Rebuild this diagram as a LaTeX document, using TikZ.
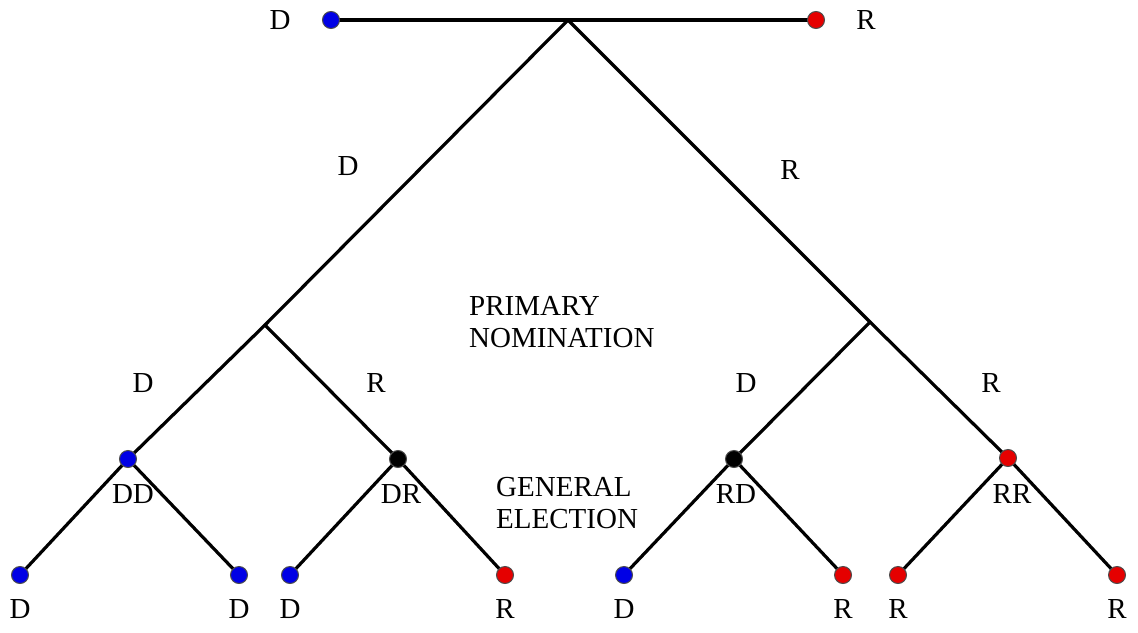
\documentclass[tikz,border=0pt]{standalone}
\usepackage{fontspec}
\setmainfont{Liberation Serif}
\begin{document}
\begin{tikzpicture}[x=1pt,y=-1pt,
  edge/.style={line width=3.2pt, line cap=round},
  dot/.style={circle, draw=black!70, line width=1pt, minimum size=17pt, inner sep=0pt},
  bdot/.style={dot, fill=blue!90!black},
  rdot/.style={dot, fill=red!90!black},
  kdot/.style={dot, fill=black},
  lab/.style={font=\fontsize{29}{32}\selectfont, inner sep=0pt},
  blk/.style={font=\fontsize{29}{32}\selectfont, inner sep=0pt, align=left, anchor=west}]
\useasboundingbox (0,0) rectangle (1138,632);
% coordinates
\coordinate (apex) at (568,20);
\coordinate (ls) at (265,325);
\coordinate (rs) at (870,322);
% edges
\draw[edge] (331,20) coordinate (pD) -- (816,20) coordinate (pR);
\draw[edge] (apex) -- (ls) -- (128,459) coordinate (cDD);
\draw[edge] (apex) -- (rs) -- (1008,458) coordinate (cRR);
\draw[edge] (ls) -- (398,459) coordinate (cDR);
\draw[edge] (rs) -- (734,459) coordinate (cRD);
\draw[edge] (cDD) -- (20,575) coordinate (c1);
\draw[edge] (cDD) -- (239,575) coordinate (c2);
\draw[edge] (cDR) -- (290,575) coordinate (c3);
\draw[edge] (cDR) -- (505,575) coordinate (c4);
\draw[edge] (cRD) -- (624,575) coordinate (c5);
\draw[edge] (cRD) -- (843,575) coordinate (c6);
\draw[edge] (cRR) -- (898,575) coordinate (c7);
\draw[edge] (cRR) -- (1117,575) coordinate (c8);
% dots
\node[bdot] (topD) at (pD) {};
\node[rdot] (topR) at (pR) {};
\node[bdot] (DD) at (cDD) {};
\node[kdot] (DR) at (cDR) {};
\node[kdot] (RD) at (cRD) {};
\node[rdot] (RR) at (cRR) {};
\node[bdot] (l1) at (c1) {};
\node[bdot] (l2) at (c2) {};
\node[bdot] (l3) at (c3) {};
\node[rdot] (l4) at (c4) {};
\node[bdot] (l5) at (c5) {};
\node[rdot] (l6) at (c6) {};
\node[rdot] (l7) at (c7) {};
\node[rdot] (l8) at (c8) {};
% labels
\node[lab] (tD) at (280,20) {D};
\node[lab] (tR) at (866,20) {R};
\node[lab] (bD) at (348,166) {D};
\node[lab] (bR) at (790,170) {R};
\node[lab] (mD1) at (143,383) {D};
\node[lab] (mR1) at (376,383) {R};
\node[lab] (mD2) at (746,383) {D};
\node[lab] (mR2) at (991,383) {R};
\node[lab] (tDD) at (133,494) {DD};
\node[lab] (tDR) at (401,494) {DR};
\node[lab] (tRD) at (736,494) {RD};
\node[lab] (tRR) at (1012,494) {RR};
\node[lab] (f1) at (20,609) {D};
\node[lab] (f2) at (239,609) {D};
\node[lab] (f3) at (290,609) {D};
\node[lab] (f4) at (505,609) {R};
\node[lab] (f5) at (624,609) {D};
\node[lab] (f6) at (843,609) {R};
\node[lab] (f7) at (898,609) {R};
\node[lab] (f8) at (1117,609) {R};
\node[blk] (prim) at (469,322) {PRIMARY\\NOMINATION};
\node[blk] (gen) at (496,503) {GENERAL\\ELECTION};
\end{tikzpicture}
\end{document}
